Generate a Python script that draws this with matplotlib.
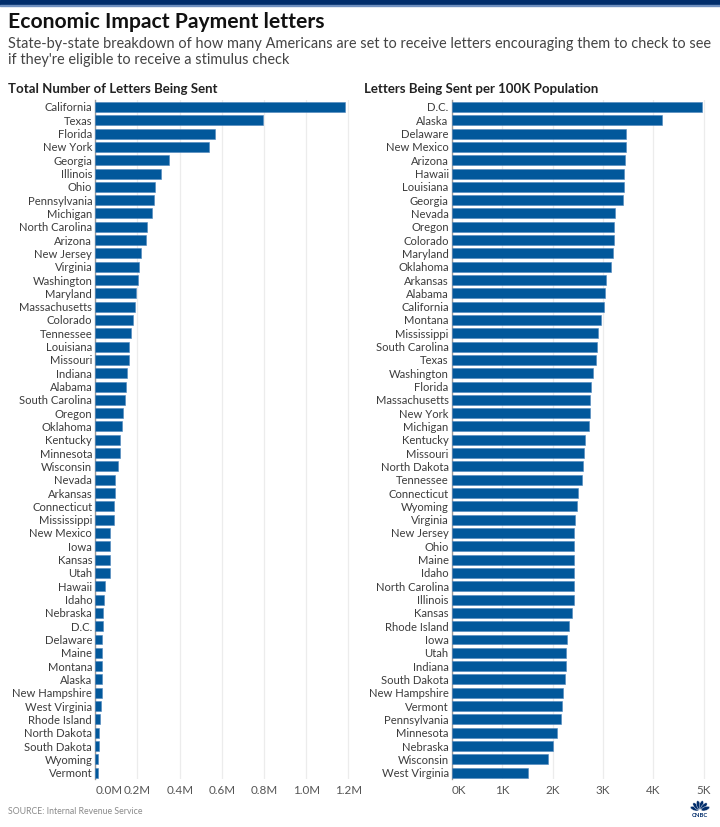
import matplotlib
matplotlib.use('Agg')
import matplotlib.pyplot as plt
from matplotlib.patches import Rectangle, Ellipse
import numpy as np

# ---------------- data ----------------
total_states = ["California", "Texas", "Florida", "New York", "Georgia", "Illinois", "Ohio",
                "Pennsylvania", "Michigan", "North Carolina", "Arizona", "New Jersey", "Virginia",
                "Washington", "Maryland", "Massachusetts", "Colorado", "Tennessee", "Louisiana",
                "Missouri", "Indiana", "Alabama", "South Carolina", "Oregon", "Oklahoma", "Kentucky",
                "Minnesota", "Wisconsin", "Nevada", "Arkansas", "Connecticut", "Mississippi",
                "New Mexico", "Iowa", "Kansas", "Utah", "Hawaii", "Idaho", "Nebraska", "D.C.",
                "Delaware", "Maine", "Montana", "Alaska", "New Hampshire", "West Virginia",
                "Rhode Island", "North Dakota", "South Dakota", "Wyoming", "Vermont"]
total_letters = [1185000, 795000, 567000, 537000, 348000, 310000, 284000,
                 277000, 270000, 245000, 240000, 217000, 206000,
                 202000, 191000, 187000, 177000, 171000, 160000,
                 160000, 150000, 147000, 142000, 131000, 125000, 117000,
                 116000, 109000, 95000, 92000, 90000, 87000,
                 71000, 71000, 68000, 68000, 47000, 41000, 38000, 35000,
                 32000, 32000, 30000, 30000, 30000, 27000,
                 24000, 19000, 19000, 14000, 14000]

per100k_states = ["D.C.", "Alaska", "Delaware", "New Mexico", "Arizona", "Hawaii", "Louisiana",
                  "Georgia", "Nevada", "Oregon", "Colorado", "Maryland", "Oklahoma", "Arkansas",
                  "Alabama", "California", "Montana", "Mississippi", "South Carolina", "Texas",
                  "Washington", "Florida", "Massachusetts", "New York", "Michigan", "Kentucky",
                  "Missouri", "North Dakota", "Tennessee", "Connecticut", "Wyoming", "Virginia",
                  "New Jersey", "Ohio", "Maine", "Idaho", "North Carolina", "Illinois", "Kansas",
                  "Rhode Island", "Iowa", "Utah", "Indiana", "South Dakota", "New Hampshire",
                  "Vermont", "Pennsylvania", "Minnesota", "Nebraska", "Wisconsin", "West Virginia"]
per100k_letters = [4960, 4170, 3460, 3455, 3440, 3420, 3420,
                   3390, 3240, 3230, 3215, 3205, 3160, 3060,
                   3050, 3030, 2970, 2900, 2875, 2855,
                   2800, 2760, 2750, 2740, 2720, 2640,
                   2620, 2600, 2580, 2500, 2490, 2440,
                   2430, 2430, 2430, 2420, 2420, 2420, 2390,
                   2330, 2280, 2265, 2260, 2250, 2210,
                   2190, 2160, 2090, 2000, 1920, 1510]

total_ticks = [0, 200000, 400000, 600000, 800000, 1000000, 1200000]
total_tick_labels = ["0.0M", "0.2M", "0.4M", "0.6M", "0.8M", "1.0M", "1.2M"]
per100k_ticks = [0, 1000, 2000, 3000, 4000, 5000]
per100k_tick_labels = ["0K", "1K", "2K", "3K", "4K", "5K"]

# ---------------- style ----------------
plt.rcParams['font.family'] = ['Lato', 'DejaVu Sans']
BAR = '#02589b'
NAVY = '#012d6b'
LABEL = '#3c3c3c'
GRID = '#ececec'

W, H = 720, 827
fig = plt.figure(figsize=(7.2, 8.27), dpi=100)


def px_axes(x0, y_top, w, h):
    return fig.add_axes([x0 / W, 1 - (y_top + h) / H, w / W, h / H])


def panel(ax, states, values, ticks, tick_labels, xmax):
    n = len(states)
    y = np.arange(n)
    ax.barh(y, values, height=0.75, color=BAR, edgecolor='#4f86bd', linewidth=0.4, zorder=3)
    ax.set_ylim(n - 0.5, -0.5)
    ax.set_xlim(0, xmax)
    ax.set_yticks(y)
    ax.set_yticklabels(states, fontsize=8.1, color=LABEL)
    ax.set_xticks(ticks)
    ax.set_xticklabels(tick_labels, fontsize=8.4, color='#555555')
    ax.get_xticklabels()[0].set_horizontalalignment('left')
    ax.tick_params(axis='both', length=0)
    ax.tick_params(axis='y', pad=2.2)
    ax.tick_params(axis='x', pad=4)
    ax.grid(axis='x', color=GRID, linewidth=0.9, zorder=0)
    ax.set_axisbelow(True)
    for s in ['top', 'right', 'bottom']:
        ax.spines[s].set_visible(False)
    ax.spines['left'].set_color('#9a9a9a')
    ax.spines['left'].set_linewidth(1.0)


ax1 = px_axes(95.3, 100.3, 211 * 1.22, 679)
panel(ax1, total_states, total_letters, total_ticks, total_tick_labels, 1.22e6)

ax2 = px_axes(451.7, 100.3, 50.4 * 5.05, 679)
panel(ax2, per100k_states, per100k_letters, per100k_ticks, per100k_tick_labels, 5050)

# ---------------- header ----------------
fig.patches.append(Rectangle((0, 1 - 4.5 / H), 1, 4.5 / H, transform=fig.transFigure,
                             color=NAVY, zorder=0))
fig.patches.append(Rectangle((0, 1 - 5.6 / H), 1, 1.1 / H, transform=fig.transFigure,
                             color='#6f8fbf', zorder=0))

fig.text(7.5 / W, 1 - 28.3 / H, "Economic Impact Payment letters", fontsize=15.2,
         fontweight='bold', color='#111111', va='baseline', ha='left')
fig.text(7.5 / W, 1 - 48.3 / H,
         "State-by-state breakdown of how many Americans are set to receive letters encouraging them to check to see",
         fontsize=10.45, color='#444444', va='baseline', ha='left')
fig.text(7.5 / W, 1 - 64.3 / H, "if they're eligible to receive a stimulus check",
         fontsize=10.45, color='#444444', va='baseline', ha='left')

fig.text(7.5 / W, 1 - 92.7 / H, "Total Number of Letters Being Sent", fontsize=9.5,
         fontweight='bold', color='#222222', va='baseline', ha='left')
fig.text(364 / W, 1 - 92.7 / H, "Letters Being Sent per 100K Population", fontsize=9.5,
         fontweight='bold', color='#222222', va='baseline', ha='left')

fig.text(7.5 / W, 1 - 813.5 / H, "SOURCE: Internal Revenue Service", fontsize=6.3,
         color='#8a8a8a', va='baseline', ha='left')

# ---------------- logo ----------------
lax = px_axes(686, 799, 28, 19)
lax.set_xlim(-1.5, 1.5)
lax.set_ylim(-0.75, 1.3)
lax.axis('off')
for ang in np.linspace(160, 20, 6):
    a = np.deg2rad(ang)
    lax.add_patch(Ellipse((0.62 * np.cos(a), 0.05 + 0.62 * np.sin(a)), 0.95, 0.42, angle=ang,
                          facecolor=NAVY, edgecolor='white', linewidth=0.3))
lax.text(0, -0.48, "CNBC", fontsize=4.2, fontweight='bold', color=NAVY,
         ha='center', va='center')

fig.savefig('out.png', dpi=100)
